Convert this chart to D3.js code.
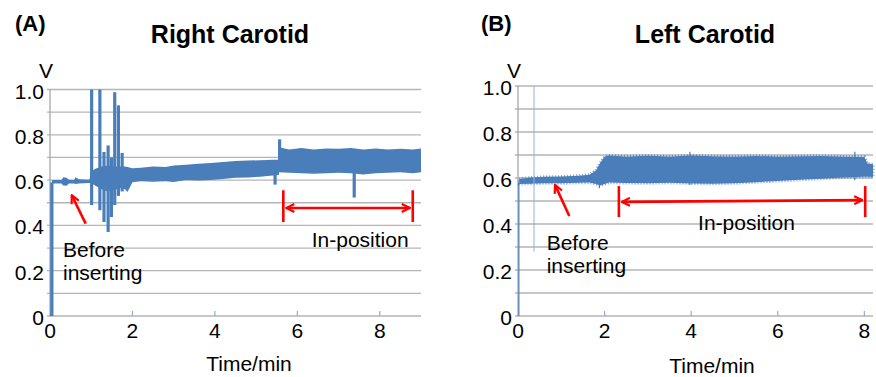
<!DOCTYPE html>
<html>
<head>
<meta charset="utf-8">
<script src="https://cdn.jsdelivr.net/npm/d3@7"></script>
<style>
  body { margin: 0; background: #fff; }
  svg { display: block; font-family: "Liberation Sans", Arial, sans-serif; }
</style>
</head>
<body>
<svg id="chart" width="876" height="377"></svg>
<script>
const timeA = [0, 0.04, 0.05, 0.28, 0.32, 0.40, 0.46, 0.58, 0.62, 0.70, 0.95, 1.02, 1.10, 1.25, 1.40, 1.55, 1.70, 1.82, 1.88, 2.0,
  2.2, 2.5, 2.8, 3.0, 3.3, 3.6, 3.9, 4.2, 4.5, 4.8, 5.1, 5.4, 5.55, 5.56, 5.8, 6.1, 6.4, 6.7, 7.0, 7.3, 7.6, 7.9, 8.2, 8.5, 8.8, 9.0];
const lowA = [0, 0, 0.585, 0.585, 0.576, 0.575, 0.585, 0.585, 0.583, 0.585, 0.587, 0.585, 0.575, 0.560, 0.550, 0.555, 0.565, 0.560, 0.548, 0.590,
  0.595, 0.593, 0.595, 0.592, 0.600, 0.598, 0.600, 0.605, 0.610, 0.612, 0.615, 0.620, 0.622, 0.635, 0.632, 0.630, 0.628, 0.630, 0.632, 0.630, 0.625, 0.630, 0.632, 0.635, 0.630, 0.635];
const highA = [0.01, 0.01, 0.600, 0.600, 0.613, 0.610, 0.601, 0.600, 0.613, 0.604, 0.601, 0.640, 0.650, 0.660, 0.665, 0.660, 0.660, 0.660, 0.658, 0.652,
  0.655, 0.660, 0.658, 0.665, 0.668, 0.672, 0.676, 0.680, 0.684, 0.686, 0.688, 0.690, 0.690, 0.745, 0.735, 0.742, 0.735, 0.740, 0.738, 0.742, 0.735, 0.740, 0.735, 0.738, 0.735, 0.740];
// spikes (time, bottom, top)
const spikeTimeA = [0.045, 1.01, 1.21, 1.31, 1.41, 1.49, 1.57, 1.66, 1.75, 5.46, 5.57, 7.38];
const spikeLowA = [0, 0.49, 0.467, 0.415, 0.371, 0.437, 0.49, 0.53, 0.55, 0.58, 0.65, 0.523];
const spikeHighA = [0.59, 1.0, 1.0, 0.724, 0.753, 0.70, 0.988, 0.93, 0.72, 0.66, 0.78, 0.70];

// (B) left carotid (the rise from 0 at the start is drawn as a spike)
const timeB = [0.03, 0.3, 0.6, 1.0, 1.4, 1.65, 1.8, 1.9, 2.0, 2.1, 2.5, 3.0, 3.5, 4.0, 4.5, 5.0, 5.5, 6.0, 6.5, 7.0, 7.5, 8.0, 8.07, 8.2];
const lowB = [0.574, 0.575, 0.577, 0.577, 0.579, 0.580, 0.574, 0.567, 0.574, 0.580, 0.578, 0.577, 0.579, 0.576, 0.575, 0.577, 0.582, 0.587, 0.592, 0.597, 0.602, 0.605, 0.605, 0.604];
const highB = [0.596, 0.602, 0.605, 0.606, 0.610, 0.614, 0.633, 0.666, 0.693, 0.698, 0.694, 0.697, 0.693, 0.698, 0.695, 0.694, 0.696, 0.693, 0.695, 0.696, 0.693, 0.692, 0.663, 0.660];
const spikeTimeB = [0.02, 1.88, 3.97, 7.78];
const spikeLowB = [0, 0.555, 0.57, 0.59];
const spikeHighB = [0.585, 0.62, 0.714, 0.714];
const markTimeB = [0.37];
const markLowB = [0.28];
const markHighB = [1.0];

const yTicks = [0, 0.2, 0.4, 0.6, 0.8, 1.0];
const yTickLabels = ["0", "0.2", "0.4", "0.6", "0.8", "1.0"];
const xTicks = [0, 2, 4, 6, 8];

// annotations in data units: [start, end] of the in-position span, bar bottom/top, arrow level
const inPosA = [5.66, 8.80], inBarA = [0.415, 0.555], inArrowA = [0.477, 0.477];
const inPosB = [2.33, 8.02], inBarB = [0.43, 0.565], inArrowB = [0.496, 0.504];
const beforeArrowA = [[0.866, 0.408], [0.527, 0.533]];
const beforeArrowB = [[1.185, 0.435], [0.855, 0.57]];

const blue = "#4a7ebb", red = "#ff0000";

const svg = d3.select("#chart");
svg.append("rect").attr("width", 876).attr("height", 377).attr("fill", "#fff");

const defs = svg.append("defs");
defs.append("marker")
  .attr("id", "chev")
  .attr("viewBox", "0 0 10 10")
  .attr("refX", 9).attr("refY", 5)
  .attr("markerWidth", 10).attr("markerHeight", 10)
  .attr("markerUnits", "userSpaceOnUse")
  .attr("orient", "auto-start-reverse")
  .append("path")
  .attr("d", "M1,1 L9,5 L1,9")
  .attr("fill", "none").attr("stroke", red).attr("stroke-width", 2.2);

const panels = [
  { tag: "(A)", tagX: 15, title: "Right Carotid", titleX: 230, left: 50, right: 421, top: 89.5, xMax: 9,
    time: timeA, low: lowA, high: highA, sT: spikeTimeA, sL: spikeLowA, sH: spikeHighA, sW: 3.2,
    inPos: inPosA, inBar: inBarA, inArrow: inArrowA, before: beforeArrowA,
    beforeText: [0.315, 0.261], inText: [6.35, 0.305], timeLabelX: 249, timeLabelY: 371, fuzzy: false },
  { tag: "(B)", tagX: 481, title: "Left Carotid", titleX: 705, left: 518, right: 873, top: 86, xMax: 8.2,
    time: timeB, low: lowB, high: highB, sT: spikeTimeB, sL: spikeLowB, sH: spikeHighB, sW: 1.2,
    inPos: inPosB, inBar: inBarB, inArrow: inArrowB, before: beforeArrowB,
    beforeText: [0.663, 0.287], inText: [4.16, 0.374], timeLabelX: 712, timeLabelY: 373, fuzzy: true }
];

panels.forEach(p => {
  const x = d3.scaleLinear().domain([0, p.xMax]).range([p.left, p.right]);
  const y = d3.scaleLinear().domain([0, 1]).range([316, p.top]);
  const g = svg.append("g");

  // headings
  g.append("text").attr("x", p.tagX).attr("y", 31)
    .attr("font-size", 22).attr("font-weight", "bold").text(p.tag);
  g.append("text").attr("x", p.titleX).attr("y", 43).attr("text-anchor", "middle")
    .attr("font-size", 25).attr("font-weight", "bold").text(p.title);
  g.append("text").attr("x", p.left - 4).attr("y", 78).attr("text-anchor", "middle")
    .attr("font-size", 21).text("V");

  // grid every 0.1 V
  g.append("g").selectAll("line")
    .data(y.ticks(10))
    .enter().append("line")
    .attr("x1", p.left - 3).attr("x2", p.right)
    .attr("y1", d => y(d)).attr("y2", d => y(d))
    .attr("stroke", "#b5b5b5").attr("stroke-width", 1.3);

  g.append("line")
    .attr("x1", p.left).attr("x2", p.left)
    .attr("y1", y(0)).attr("y2", y(1))
    .attr("stroke", "#a8a8a8").attr("stroke-width", 1.3);

  // x tick marks point up from the baseline
  g.append("g").selectAll("line")
    .data(xTicks.filter(d => d > 0))
    .enter().append("line")
    .attr("x1", d => x(d)).attr("x2", d => x(d))
    .attr("y1", y(0)).attr("y2", y(0) - 5)
    .attr("stroke", "#8eaadb").attr("stroke-width", 1.2);

  g.append("g").selectAll("text")
    .data(yTicks)
    .enter().append("text")
    .attr("x", p.left - 6).attr("y", d => y(d) + 9)
    .attr("text-anchor", "end").attr("font-size", 21)
    .text((d, i) => yTickLabels[i]);

  g.append("g").selectAll("text")
    .data(xTicks)
    .enter().append("text")
    .attr("x", d => x(d)).attr("y", 338)
    .attr("text-anchor", "middle").attr("font-size", 21)
    .text(d => d);

  g.append("text").attr("x", p.timeLabelX).attr("y", p.timeLabelY)
    .attr("text-anchor", "middle").attr("font-size", 21).text("Time/min");

  // signal band
  const area = d3.area()
    .x(i => x(p.time[i]))
    .y0(i => y(p.low[i]))
    .y1(i => y(p.high[i]));
  const band = g.append("path")
    .attr("d", area(d3.range(p.time.length)))
    .attr("fill", blue);
  if (p.fuzzy) {
    // ragged noise at the band edges
    band.attr("stroke", blue).attr("stroke-width", 3)
      .attr("stroke-dasharray", "1 2").attr("stroke-opacity", 0.75);
  }

  g.append("g").selectAll("line")
    .data(d3.range(p.sT.length))
    .enter().append("line")
    .attr("x1", i => x(p.sT[i])).attr("x2", i => x(p.sT[i]))
    .attr("y1", i => y(p.sL[i])).attr("y2", i => y(p.sH[i]))
    .attr("stroke", blue).attr("stroke-width", p.sW);

  if (p.tag === "(B)") {
    g.append("g").selectAll("line")
      .data(d3.range(markTimeB.length))
      .enter().append("line")
      .attr("x1", i => x(markTimeB[i])).attr("x2", i => x(markTimeB[i]))
      .attr("y1", i => y(markLowB[i])).attr("y2", i => y(markHighB[i]))
      .attr("stroke", "#8db3e2").attr("stroke-width", 1);
  }

  // red annotations
  const ann = g.append("g").attr("stroke", red).attr("stroke-width", 2.6).attr("fill", "none");
  p.inPos.forEach(t => {
    ann.append("line")
      .attr("x1", x(t)).attr("x2", x(t))
      .attr("y1", y(p.inBar[0])).attr("y2", y(p.inBar[1]));
  });
  ann.append("line")
    .attr("x1", x(p.inPos[0]) + 3).attr("x2", x(p.inPos[1]) - 3)
    .attr("y1", y(p.inArrow[0])).attr("y2", y(p.inArrow[1]))
    .attr("marker-start", "url(#chev)").attr("marker-end", "url(#chev)");
  ann.append("line")
    .attr("x1", x(p.before[0][0])).attr("y1", y(p.before[0][1]))
    .attr("x2", x(p.before[1][0])).attr("y2", y(p.before[1][1]))
    .attr("marker-end", "url(#chev)");

  const bt = g.append("text").attr("font-size", 21)
    .attr("x", x(p.beforeText[0])).attr("y", y(p.beforeText[1]));
  bt.append("tspan").text("Before");
  bt.append("tspan").attr("x", x(p.beforeText[0])).attr("dy", 23.5).text("inserting");

  g.append("text").attr("font-size", 21)
    .attr("x", x(p.inText[0])).attr("y", y(p.inText[1]))
    .text("In-position");
});
</script>
</body>
</html>
